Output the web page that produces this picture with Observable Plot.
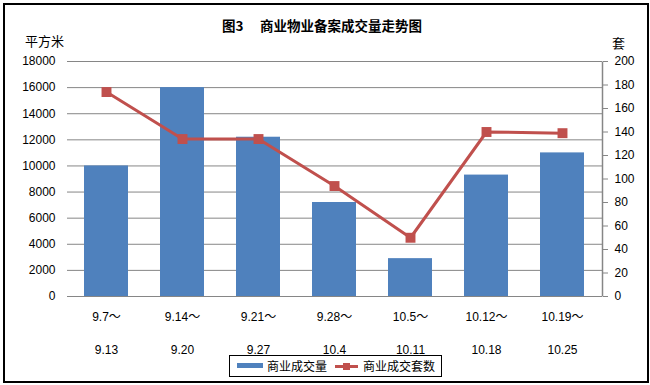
<!DOCTYPE html>
<html><head><meta charset="utf-8">
<script src="https://cdn.jsdelivr.net/npm/d3@7"></script>
<script src="https://cdn.jsdelivr.net/npm/@observablehq/plot@0.6"></script>
<style>
body{margin:0;background:#fff;}
#wrap{position:relative;width:650px;height:385px;overflow:hidden;font-family:"Liberation Sans","Noto Sans CJK SC",sans-serif;color:#000;}
#wrap svg{position:absolute;left:0;top:0;}
.abs{position:absolute;white-space:pre;}
#title{left:0;width:644px;text-align:center;top:18px;font:bold 13.5px/15px "Noto Sans CJK SC",sans-serif;}
#unitL{left:25px;top:33px;font:13px/16px "Noto Sans CJK SC",sans-serif;}
#unitR{left:612px;top:35px;font:13px/16px "Noto Sans CJK SC",sans-serif;}
#legend{left:229px;top:355px;width:213px;height:22px;box-sizing:border-box;border:1px solid #000;background:#fff;display:flex;align-items:center;font:12px/14px "Noto Sans CJK SC",sans-serif;padding-left:7px;}
#legend svg{position:static;display:block;}
#border{left:3px;top:3px;width:646px;height:380px;box-sizing:border-box;border:2px solid #000;pointer-events:none;}
</style></head><body>
<div id="wrap"></div>
<script>
const chartTitle = "图3\u3000 商业物业备案成交量走势图";
const leftUnit = "平方米";
const rightUnit = "套";
const seriesNames = ["商业成交量", "商业成交套数"];
const weekStart = ["9.7", "9.14", "9.21", "9.28", "10.5", "10.12", "10.19"];
const weekEnd = ["9.13", "9.20", "9.27", "10.4", "10.11", "10.18", "10.25"];
const area = [10000, 16000, 12200, 7200, 2900, 9300, 11000];
const units = [174, 134, 134, 94, 50, 140, 139];
const leftTicks = [0, 2000, 4000, 6000, 8000, 10000, 12000, 14000, 16000, 18000];
const rightTicks = [0, 20, 40, 60, 80, 100, 120, 140, 160, 180, 200];

const blue = "#4F81BD", red = "#C0504D", gridColor = "#868686";
const leftMax = 18000, rightMax = 200, ratio = leftMax / rightMax;
const W = 650, H = 385, mL = 67, mR = 48, mT = 61, mB = 89;
const pw = W - mL - mR, ph = H - mT - mB;

const data = weekStart.map((w, i) => ({w, area: area[i], units: units[i], u: units[i] * ratio}));

const chart = Plot.plot({
  width: W, height: H,
  marginLeft: mL, marginRight: mR, marginTop: mT, marginBottom: mB,
  style: {fontFamily: '"Liberation Sans","Noto Sans CJK SC",sans-serif', fontSize: "12px", color: "#000", background: "transparent"},
  x: {domain: weekStart, paddingInner: 0.42, paddingOuter: 0.21, label: null},
  y: {domain: [0, leftMax], label: null},
  marks: [
    Plot.gridY(leftTicks, {stroke: gridColor, strokeOpacity: 1, strokeWidth: 1}),
    Plot.barY(data, {x: "w", y: "area", fill: blue}),
    Plot.line(data, {x: "w", y: "u", stroke: red, strokeWidth: 3}),
    Plot.dot(data, {x: "w", y: "u", symbol: "square", r: 5.6, fill: red, stroke: "none"}),
    Plot.axisY(leftTicks, {anchor: "left", tickSize: 0, tickPadding: 12, label: null, fill: "#000", tickFormat: d => String(d)}),
    Plot.axisY(rightTicks.map(t => t * ratio), {anchor: "right", tickSize: 5, tickPadding: 7, stroke: gridColor, fill: "#000", label: null, tickFormat: d => String(Math.round(d / ratio))}),
    Plot.frame({stroke: gridColor, strokeWidth: 1.5, strokeDasharray: `0 ${pw} ${ph} ${pw + ph}`}),
    Plot.axisX({tickSize: 0, tickPadding: 16, label: null, fill: "#000", tickFormat: d => d + "～"}),
    Plot.axisX({tickSize: 0, tickPadding: 49, label: null, fill: "#000", tickFormat: d => weekEnd[weekStart.indexOf(d)]})
  ]
});

const wrap = document.getElementById("wrap");
wrap.appendChild(chart);

function addDiv(id, text) {
  const d = document.createElement("div");
  d.className = "abs"; d.id = id;
  if (text != null) d.textContent = text;
  wrap.appendChild(d);
  return d;
}
addDiv("title", chartTitle);
addDiv("unitL", leftUnit);
addDiv("unitR", rightUnit);

const legend = addDiv("legend");
legend.innerHTML =
  `<svg width="26" height="6"><rect x="0" y="0" width="26" height="5" fill="${blue}"/></svg>` +
  `<span style="margin-left:4px">${seriesNames[0]}</span>` +
  `<svg width="23" height="9" style="margin-left:8px"><line x1="0" x2="23" y1="4.5" y2="4.5" stroke="${red}" stroke-width="3"/><rect x="8" y="1" width="7" height="7" fill="${red}"/></svg>` +
  `<span style="margin-left:5px">${seriesNames[1]}</span>`;
addDiv("border");
</script>
</body></html>
